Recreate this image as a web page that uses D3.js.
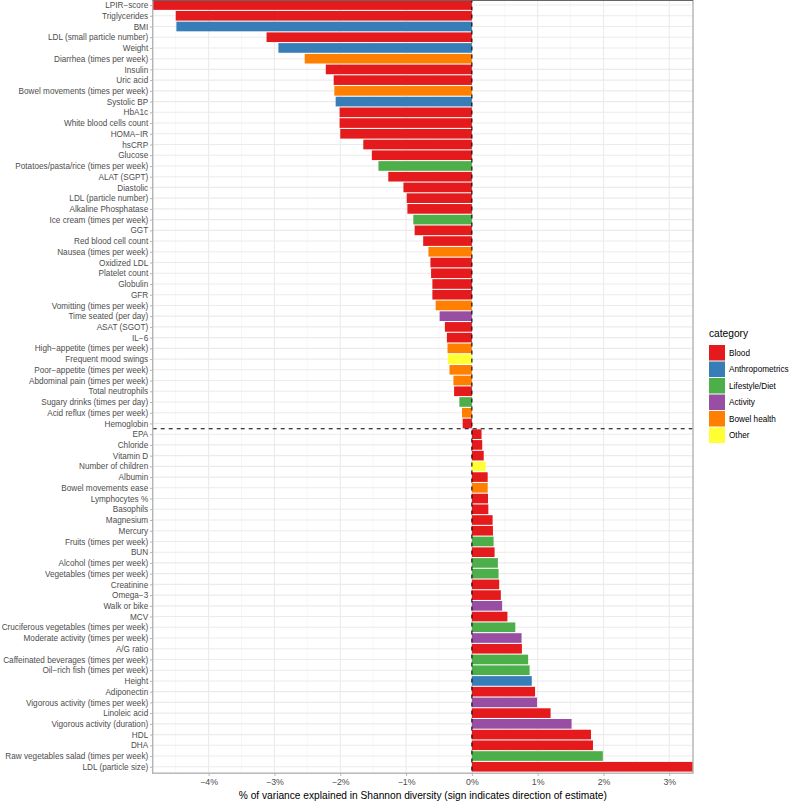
<!DOCTYPE html>
<html lang="en">
<head>
<meta charset="UTF-8">
<title>Shannon diversity</title>
<script src="https://d3js.org/d3.v7.min.js"></script>
<style>
  body { margin: 0; background: #fff; }
  text { font-family: "Liberation Sans", Arial, sans-serif; }
</style>
</head>
<body>
<div id="chart"></div>
<script>
// variables, top to bottom
var labels = ["LPIR\u2212score", "Triglycerides", "BMI", "LDL (small particle number)", "Weight",
  "Diarrhea (times per week)", "Insulin", "Uric acid", "Bowel movements (times per week)", "Systolic BP",
  "HbA1c", "White blood cells count", "HOMA\u2212IR", "hsCRP", "Glucose",
  "Potatoes/pasta/rice (times per week)", "ALAT (SGPT)", "Diastolic", "LDL (particle number)", "Alkaline Phosphatase",
  "Ice cream (times per week)", "GGT", "Red blood cell count", "Nausea (times per week)", "Oxidized LDL",
  "Platelet count", "Globulin", "GFR", "Vomitting (times per week)", "Time seated (per day)",
  "ASAT (SGOT)", "IL\u22126", "High\u2212appetite (times per week)", "Frequent mood swings", "Poor\u2212appetite (times per week)",
  "Abdominal pain (times per week)", "Total neutrophils", "Sugary drinks (times per day)", "Acid reflux (times per week)", "Hemoglobin",
  "EPA", "Chloride", "Vitamin D", "Number of children", "Albumin",
  "Bowel movements ease", "Lymphocytes %", "Basophils", "Magnesium", "Mercury",
  "Fruits (times per week)", "BUN", "Alcohol (times per week)", "Vegetables (times per week)", "Creatinine",
  "Omega\u22123", "Walk or bike", "MCV", "Cruciferous vegetables (times per week)", "Moderate activity (times per week)",
  "A/G ratio", "Caffeinated beverages (times per week)", "Oil\u2212rich fish (times per week)", "Height", "Adiponectin",
  "Vigorous activity (times per week)", "Linoleic acid", "Vigorous activity (duration)", "HDL", "DHA",
  "Raw vegetables salad (times per week)", "LDL (particle size)"];

var values = [-4.85, -4.50, -4.49, -3.12, -2.94,
  -2.54, -2.22, -2.10, -2.09, -2.07,
  -2.01, -2.01, -2.00, -1.65, -1.52,
  -1.42, -1.27, -1.04, -0.99, -0.98,
  -0.89, -0.87, -0.74, -0.66, -0.63,
  -0.62, -0.60, -0.60, -0.55, -0.49,
  -0.41, -0.38, -0.37, -0.365, -0.34,
  -0.28, -0.27, -0.19, -0.15, -0.14,
  0.147, 0.157, 0.18, 0.21, 0.24,
  0.24, 0.245, 0.25, 0.315, 0.32,
  0.33, 0.345, 0.395, 0.405, 0.415,
  0.44, 0.46, 0.54, 0.66, 0.755,
  0.76, 0.855, 0.877, 0.91, 0.96,
  0.99, 1.196, 1.515, 1.81, 1.84,
  1.99, 3.36];

var cats = ["Blood", "Blood", "Anthropometrics", "Blood", "Anthropometrics",
  "Bowel health", "Blood", "Blood", "Bowel health", "Anthropometrics",
  "Blood", "Blood", "Blood", "Blood", "Blood",
  "Lifestyle/Diet", "Blood", "Blood", "Blood", "Blood",
  "Lifestyle/Diet", "Blood", "Blood", "Bowel health", "Blood",
  "Blood", "Blood", "Blood", "Bowel health", "Activity",
  "Blood", "Blood", "Bowel health", "Other", "Bowel health",
  "Bowel health", "Blood", "Lifestyle/Diet", "Bowel health", "Blood",
  "Blood", "Blood", "Blood", "Other", "Blood",
  "Bowel health", "Blood", "Blood", "Blood", "Blood",
  "Lifestyle/Diet", "Blood", "Lifestyle/Diet", "Lifestyle/Diet", "Blood",
  "Blood", "Activity", "Blood", "Lifestyle/Diet", "Activity",
  "Blood", "Lifestyle/Diet", "Lifestyle/Diet", "Anthropometrics", "Blood",
  "Activity", "Blood", "Activity", "Blood", "Blood",
  "Lifestyle/Diet", "Blood"];

var categories = ["Blood", "Anthropometrics", "Lifestyle/Diet", "Activity", "Bowel health", "Other"];
var palette = ["#E41A1C", "#377EB8", "#4DAF4A", "#984EA3", "#FF7F00", "#FFFF33"];
var xTicks = [-4, -3, -2, -1, 0, 1, 2, 3];
var xMinor = [-4.5, -3.5, -2.5, -1.5, -0.5, 0.5, 1.5, 2.5];
var splitAfter = "Hemoglobin";

(function () {
var data = labels.map(function (d, i) { return { name: d, value: values[i], cat: cats[i] }; });

var W = 790, H = 804;
var pLeft = 152.7, pRight = 693, pTop = -1.4, pBottom = 773.2;
var fs = "8.2px";

var svg = d3.select("#chart").append("svg")
  .attr("width", W).attr("height", H);

var x = d3.scaleLinear()
  .domain(d3.extent(values))
  .range([pLeft, pRight]);

var y = d3.scalePoint()
  .domain(labels)
  .range([pTop, pBottom])
  .padding(0.6);

var color = d3.scaleOrdinal().domain(categories).range(palette);
var bh = y.step() * 0.9;

svg.append("defs").append("clipPath").attr("id", "panel")
  .append("rect").attr("x", pLeft).attr("y", pTop).attr("width", pRight - pLeft).attr("height", pBottom - pTop);

var g = svg.append("g").attr("clip-path", "url(#panel)");

// grid
g.selectAll(".minor").data(xMinor).enter().append("line")
  .attr("x1", function (d) { return x(d); }).attr("x2", function (d) { return x(d); })
  .attr("y1", pTop).attr("y2", pBottom)
  .attr("stroke", "#f2f2f2").attr("stroke-width", 0.6);
g.selectAll(".major").data(xTicks).enter().append("line")
  .attr("x1", function (d) { return x(d); }).attr("x2", function (d) { return x(d); })
  .attr("y1", pTop).attr("y2", pBottom)
  .attr("stroke", "#ebebeb").attr("stroke-width", 1.1);
g.selectAll(".hgrid").data(labels).enter().append("line")
  .attr("x1", pLeft).attr("x2", pRight)
  .attr("y1", function (d) { return y(d); }).attr("y2", function (d) { return y(d); })
  .attr("stroke", "#ebebeb").attr("stroke-width", 1.1);

// bars
g.selectAll(".bar").data(data).enter().append("rect")
  .attr("x", function (d) { return x(Math.min(0, d.value)); })
  .attr("width", function (d) { return Math.abs(x(d.value) - x(0)); })
  .attr("y", function (d) { return y(d.name) - bh / 2; })
  .attr("height", bh)
  .attr("fill", function (d) { return color(d.cat); });

// reference lines
g.append("line")
  .attr("x1", x(0)).attr("x2", x(0)).attr("y1", pTop).attr("y2", pBottom)
  .attr("stroke", "#000").attr("stroke-width", 1.1).attr("stroke-dasharray", "4,4");
var ySplit = y(splitAfter) + y.step() / 2;
g.append("line")
  .attr("x1", pLeft).attr("x2", pRight).attr("y1", ySplit).attr("y2", ySplit)
  .attr("stroke", "#000").attr("stroke-width", 1.1).attr("stroke-dasharray", "4,4");

// panel border
svg.append("rect")
  .attr("x", pLeft).attr("y", pTop).attr("width", pRight - pLeft).attr("height", pBottom - pTop)
  .attr("fill", "none").attr("stroke", "#b3b3b3").attr("stroke-width", 1.4);
svg.append("line").attr("x1", pLeft).attr("x2", pRight).attr("y1", 0.5).attr("y2", 0.5)
  .attr("stroke", "#666").attr("stroke-width", 1);

// axes
var yAxis = svg.append("g")
  .attr("transform", "translate(" + pLeft + ",0)")
  .call(d3.axisLeft(y).tickSize(2.7).tickPadding(1.8));
var xAxis = svg.append("g")
  .attr("transform", "translate(0," + pBottom + ")")
  .call(d3.axisBottom(x).tickValues(xTicks).tickSize(2.7).tickPadding(3)
    .tickFormat(function (d) { return (d < 0 ? "\u2212" + Math.abs(d) : d) + "%"; }));
[yAxis, xAxis].forEach(function (a) {
  a.select(".domain").remove();
  a.selectAll(".tick line").attr("stroke", "#b3b3b3");
  a.selectAll("text").attr("fill", "#4d4d4d").style("font-size", fs);
});
xAxis.selectAll("text").style("font-size", "8.8px");

svg.append("text")
  .attr("x", (pLeft + pRight) / 2).attr("y", 799)
  .attr("text-anchor", "middle")
  .style("font-size", "10.2px").attr("fill", "#000")
  .text("% of variance explained in Shannon diversity (sign indicates direction of estimate)");

// legend
var lg = svg.append("g").attr("transform", "translate(709,0)");
lg.append("text").attr("x", 0).attr("y", 337)
  .style("font-size", "10.2px").text("category");
var items = lg.selectAll(".item").data(categories).enter().append("g")
  .attr("transform", function (d, i) { return "translate(0," + (345 + i * 16.5) + ")"; });
items.append("rect").attr("width", 16).attr("height", 15.5)
  .attr("fill", function (d) { return color(d); });
items.append("text").attr("x", 20).attr("y", 8).attr("dy", "0.35em")
  .style("font-size", fs).text(function (d) { return d; });
})();
</script>
</body>
</html>
